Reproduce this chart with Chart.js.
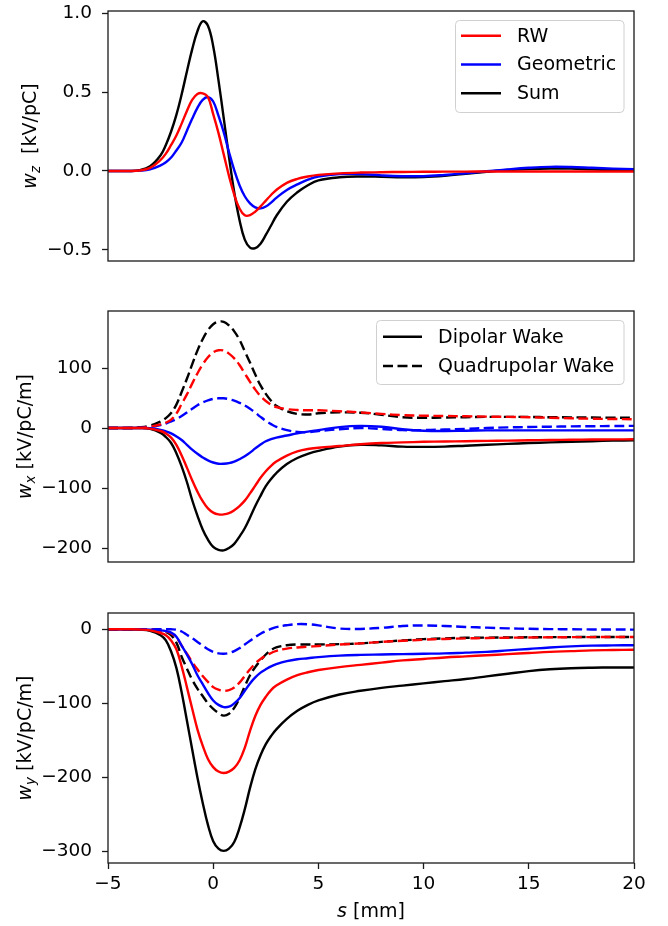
<!DOCTYPE html>
<html>
<head>
<meta charset="utf-8">
<script src="https://cdn.jsdelivr.net/npm/chart.js@4.4.1/dist/chart.umd.min.js"></script>
<style>
  body { margin: 0; background: #fff; }
  #wrap { position: relative; width: 668px; height: 926px; }
  canvas { position: absolute; left: 0; }
</style>
</head>
<body>
<div id="wrap">
  <canvas id="chartZ" width="668" height="270" style="top:0px"></canvas>
  <canvas id="chartX" width="668" height="270" style="top:300px"></canvas>
  <canvas id="chartY" width="668" height="326" style="top:600px"></canvas>
</div>
<script>
// s positions [mm]
var sPos = [-5, -4, -3.5, -3, -2.5, -2.25, -2, -1.75, -1.5, -1.25, -1, -0.75, -0.5, -0.25, 0, 0.25,
  0.5, 0.75, 1, 1.25, 1.5, 1.75, 2, 2.25, 2.5, 2.75, 3, 3.5, 4, 4.5, 5, 6, 7, 8, 9, 10,
  11, 12, 13, 14, 15, 16, 17, 18, 19, 20];

// longitudinal wake w_z [kV/pC]
var wzRW = [0, 0, 0.003, 0.02, 0.07, 0.11, 0.165, 0.225, 0.3, 0.38, 0.45, 0.488, 0.492, 0.468, 0.36, 0.241,
  0.105, -0.031, -0.15, -0.238, -0.281, -0.28, -0.257, -0.224, -0.188, -0.152, -0.12, -0.075, -0.05, -0.035, -0.025, -0.015,
  -0.01, -0.008, -0.006, -0.005, -0.004, -0.004, -0.003, -0.003, -0.003, -0.003, -0.003, -0.003, -0.003, -0.003];
var wzGeo = [0, 0, 0.002, 0.01, 0.035, 0.055, 0.085, 0.13, 0.18, 0.255, 0.33, 0.4, 0.45, 0.468, 0.44, 0.35,
  0.245, 0.12, 0.005, -0.09, -0.16, -0.205, -0.23, -0.237, -0.225, -0.2, -0.17, -0.12, -0.085, -0.055, -0.035, -0.02,
  -0.02, -0.028, -0.033, -0.033, -0.025, -0.014, -0.002, 0.01, 0.02, 0.026, 0.025, 0.02, 0.015, 0.012];
var wzSum = [0, 0, 0.005, 0.03, 0.1, 0.165, 0.25, 0.355, 0.485, 0.63, 0.77, 0.885, 0.948, 0.92, 0.79, 0.575,
  0.335, 0.09, -0.135, -0.31, -0.435, -0.485, -0.488, -0.46, -0.405, -0.345, -0.285, -0.195, -0.135, -0.09, -0.06, -0.04,
  -0.035, -0.037, -0.04, -0.038, -0.03, -0.018, -0.005, 0.006, 0.013, 0.016, 0.015, 0.01, 0.006, 0.004];

// horizontal wake w_x [kV/pC/m], dipolar and quadrupolar (q)
var wxRW = [0, 0, 0, -1, -5, -9, -16, -28, -46, -66, -87, -106, -122, -134, -141, -144,
  -144, -142, -137, -130, -121, -109, -96, -83, -72, -63, -56, -46, -39, -35, -33, -30,
  -27, -25, -24, -23, -22.5, -22, -21.5, -21, -20.5, -20, -19.5, -19.2, -19, -18.8];
var wxGeo = [0, 0, 0, -0.5, -3, -5.5, -9, -14, -20, -28, -36, -43, -49, -54, -57.5, -59.5,
  -59.5, -58.5, -56, -52, -47, -41, -34, -27.5, -22, -18.5, -16, -12.5, -9, -6, -3.5, 1.5,
  3.5, 2, -2, -4.5, -5, -4.5, -4, -4, -4, -4, -4, -4, -4, -4];
var wxSum = [0, 0, 0, -1.5, -8, -15, -25, -42, -64, -90, -120, -146, -169, -186, -198, -203,
  -204, -200, -193, -181, -167, -149, -130, -113, -97, -85, -75, -60, -50, -43, -38, -31,
  -28, -29, -31, -31.5, -31, -29.5, -28, -26.5, -25, -24, -23, -22, -21, -20.5];
var wxRWq = [0, 0, 0.5, 2, 6, 9, 14, 24, 40, 56, 74, 91, 106, 118, 126, 129.5,
  129, 124, 116, 105, 91, 77, 64, 53, 45, 39, 35, 31.5, 30, 29.5, 29.5, 28,
  26, 23.5, 21.5, 20.5, 20, 19.5, 19, 18.5, 18, 17, 16.2, 15.5, 15, 14.5];
var wxGeoq = [0, 0, 0.5, 2, 5, 7.5, 11, 15, 20, 26, 32, 38, 42.5, 46, 48.5, 49.5,
  49.5, 48, 45.5, 42, 37.5, 32, 25.5, 18.5, 12, 6.5, 2, -3.5, -6.5, -7, -5, -2,
  0, -1.5, -3.5, -3.5, -2.5, -1.5, 0, 1, 1.7, 2.2, 2.7, 3, 3.3, 3.6];
var wxSumq = [0, 0, 1, 4, 11, 16.5, 25, 39, 60, 82, 106, 129, 148, 163, 173, 177,
  177, 171, 161, 147, 128, 109, 89, 71, 57, 45.5, 37, 28, 23.5, 22.5, 24.5, 26,
  25.5, 22, 18, 17, 17.5, 18, 18.5, 18.5, 18.5, 18, 17.8, 17.5, 17.2, 17];

// vertical wake w_y [kV/pC/m]
var wyRW = [0, 0, -0.3, -1.5, -5, -8, -15, -27, -50, -78, -107, -135, -157, -175, -186, -192,
  -194, -192, -187, -177, -160, -137, -117, -102, -91, -82, -76, -68, -62, -58, -55, -51,
  -48, -45, -42, -40, -38, -36.5, -35, -33.5, -32, -30.5, -29.5, -28.5, -28, -27.5];
var wyGeo = [0, 0, 0, -0.5, -1.5, -2.5, -4.5, -10, -22, -34, -47, -62, -74, -86, -96, -102,
  -105, -104.5, -100, -93, -83, -73, -65, -58.5, -54, -50, -47, -43, -40.5, -39, -37.5, -35.5,
  -34.5, -34, -33.5, -33, -32.5, -31.5, -30.5, -28.5, -26.5, -24.5, -23, -22, -21.7, -21.5];
var wySum = [0, 0, -0.5, -2, -8, -15, -30, -52, -85, -123, -162, -200, -234, -264, -286, -296,
  -299, -296, -287, -268, -243, -214, -189, -170, -155, -144, -135, -121, -110, -102, -96, -88,
  -83, -79, -76, -73, -70, -67, -63.5, -60, -56.5, -54, -52.5, -51.8, -51.5, -51.5];
var wyRWq = [0, 0, 0, -0.5, -2, -3, -5.5, -11, -22, -33, -44, -54, -63, -71, -78, -81.5,
  -83, -82, -78.5, -72, -63, -54, -46, -40, -35.5, -32, -29, -26, -24.5, -23.5, -22.5, -20.5,
  -19, -17, -15.5, -14, -13, -12.3, -11.8, -11.4, -11, -10.8, -10.6, -10.5, -10.4, -10.4];
var wyGeoq = [0, 0, 0, 0, 0, 0, 0, -0.5, -3, -7.5, -12, -17, -22, -27, -30.5, -32.5,
  -33, -32, -29.5, -25.5, -20.5, -15.5, -10.5, -6, -2.5, 0.5, 3, 5.5, 7, 6.8, 5.3, 1,
  0.5, 2, 4.5, 5.2, 4.5, 3.2, 2.2, 1.3, 0.7, 0.3, 0, -0.2, -0.3, -0.4];
var wySumq = [0, 0, 0, -0.5, -2, -3.5, -8, -18, -37, -53, -68, -80, -90, -100, -107.5, -113,
  -116.5, -114, -106, -93, -77, -62, -51, -42, -34, -28, -24.5, -21.5, -20.5, -20.5, -20.5, -20,
  -19, -17, -15, -13.3, -12.2, -11.5, -11.2, -11, -10.8, -10.6, -10.5, -10.4, -10.4, -10.4];

var sTicks = [-5, 0, 5, 10, 15, 20];
var zTicks = [-0.5, 0, 0.5, 1.0];
var xTicks = [-200, -100, 0, 100];
var yTicks = [-300, -200, -100, 0];
var zLegend = ['RW', 'Geometric', 'Sum'];
var xLegend = ['Dipolar Wake', 'Quadrupolar Wake'];

var FONT = '"DejaVu Sans", sans-serif';
var RED = '#ff0000', BLUE = '#0000ff', BLACK = '#000000';
var DASH = [10, 4.5];
var LW = 2.4;

function pts(ys) {
  return sPos.map(function (s, i) { return { x: s, y: ys[i] }; });
}

function line(ys, color, dashed) {
  return {
    data: pts(ys),
    borderColor: color,
    borderWidth: LW,
    borderDash: dashed ? DASH : [],
    pointRadius: 0,
    fill: false,
    tension: 0.4
  };
}

function minus(v, dec) {
  return v.toFixed(dec).replace('-', '\u2212');
}

function richWidth(ctx, parts) {
  var w = 0;
  parts.forEach(function (p) { ctx.font = p.font; w += ctx.measureText(p.t).width; });
  return w;
}

function drawRich(ctx, parts, x, y) {
  parts.forEach(function (p) {
    ctx.font = p.font;
    ctx.fillText(p.t, x, y + (p.dy || 0));
    x += ctx.measureText(p.t).width;
  });
}

function ylab(sub, unit) {
  return [
    { t: 'w', font: 'italic 19px ' + FONT },
    { t: sub, font: 'italic 13.5px ' + FONT, dy: 4 },
    { t: unit, font: '19px ' + FONT }
  ];
}

// frame, axis labels and legend box
function panelPlugin(opts) {
  return {
    id: 'panel',
    afterDraw: function (chart) {
      var ctx = chart.ctx, a = chart.chartArea;
      ctx.save();
      ctx.strokeStyle = '#1a1a1a';
      ctx.lineWidth = 1.3;
      ctx.strokeRect(a.left, a.top, a.right - a.left, a.bottom - a.top);

      ctx.fillStyle = '#000';
      ctx.textAlign = 'left';
      ctx.textBaseline = 'alphabetic';
      ctx.save();
      ctx.translate(opts.ylabX, (a.top + a.bottom) / 2);
      ctx.rotate(-Math.PI / 2);
      drawRich(ctx, opts.ylab, -richWidth(ctx, opts.ylab) / 2, 0);
      ctx.restore();

      if (opts.xlab) {
        drawRich(ctx, opts.xlab, (a.left + a.right) / 2 - richWidth(ctx, opts.xlab) / 2, opts.xlabY);
      }

      if (opts.legend) {
        var L = opts.legend;
        ctx.beginPath();
        ctx.roundRect(L.x, L.y, L.w, L.h, 4);
        ctx.fillStyle = 'rgba(255,255,255,0.8)';
        ctx.fill();
        ctx.strokeStyle = '#d0d0d0';
        ctx.lineWidth = 1;
        ctx.stroke();
        ctx.font = '19px ' + FONT;
        ctx.textBaseline = 'middle';
        L.items.forEach(function (it, i) {
          var y = L.rowY + i * L.rowH;
          ctx.beginPath();
          ctx.setLineDash(it.dashed ? DASH : []);
          ctx.strokeStyle = it.color;
          ctx.lineWidth = LW;
          ctx.moveTo(L.lineX0, y);
          ctx.lineTo(L.lineX1, y);
          ctx.stroke();
          ctx.setLineDash([]);
          ctx.fillStyle = '#000';
          ctx.fillText(it.label, L.textX, y + 1);
        });
      }
      ctx.restore();
    }
  };
}

function makeChart(id, datasets, yMin, yMax, yTickVals, dec, pad, showX, panel) {
  var ctx = document.getElementById(id).getContext('2d');
  return new Chart(ctx, {
    type: 'line',
    data: { datasets: datasets },
    options: {
      responsive: false,
      animation: false,
      layout: { padding: pad },
      plugins: { legend: { display: false }, tooltip: { enabled: false } },
      scales: {
        x: {
          type: 'linear',
          min: -5,
          max: 20,
          display: showX,
          border: { display: false },
          grid: { drawOnChartArea: false, drawTicks: true, tickLength: 6, tickColor: '#1a1a1a', tickWidth: 1.3 },
          afterBuildTicks: function (axis) { axis.ticks = sTicks.map(function (v) { return { value: v }; }); },
          afterFit: function (axis) {
            axis.height = showX ? 40 : 0;
            axis.paddingLeft = 0;
            axis.paddingRight = 0;
          },
          ticks: {
            padding: 4,
            maxRotation: 0,
            color: '#000',
            font: { family: FONT, size: 18.5 },
            callback: function (v) { return minus(v, 0); }
          }
        },
        y: {
          min: yMin,
          max: yMax,
          border: { display: false },
          grid: { drawOnChartArea: false, drawTicks: true, tickLength: 6, tickColor: '#1a1a1a', tickWidth: 1.3 },
          afterBuildTicks: function (axis) { axis.ticks = yTickVals.map(function (v) { return { value: v }; }); },
          afterFit: function (axis) {
            axis.width = 108;
            axis.paddingTop = 0;
            axis.paddingBottom = 0;
          },
          ticks: {
            padding: 10,
            color: '#000',
            font: { family: FONT, size: 18.5 },
            callback: function (v) { return minus(v, dec); }
          }
        }
      }
    },
    plugins: [panelPlugin(panel)]
  });
}

makeChart('chartZ', [
  line(wzRW, RED), line(wzGeo, BLUE), line(wzSum, BLACK)
], -0.57, 1.013, zTicks, 1, { top: 11, right: 34, bottom: 9, left: 0 }, false, {
  ylab: ylab('z', '  [kV/pC]'), ylabX: 36,
  legend: {
    x: 455.5, y: 20.5, w: 168.5, h: 92, rowY: 35.7, rowH: 28.8, lineX0: 461, lineX1: 501, textX: 517,
    items: [
      { label: zLegend[0], color: RED },
      { label: zLegend[1], color: BLUE },
      { label: zLegend[2], color: BLACK }
    ]
  }
});

makeChart('chartX', [
  line(wxRW, RED), line(wxGeo, BLUE), line(wxSum, BLACK),
  line(wxRWq, RED, true), line(wxGeoq, BLUE, true), line(wxSumq, BLACK, true)
], -223.3, 195, xTicks, 0, { top: 11, right: 34, bottom: 8, left: 0 }, false, {
  ylab: ylab('x', ' [kV/pC/m]'), ylabX: 31,
  legend: {
    x: 376.5, y: 20.5, w: 247.5, h: 64, rowY: 36.7, rowH: 29.3, lineX0: 383, lineX1: 422, textX: 438,
    items: [
      { label: xLegend[0], color: BLACK },
      { label: xLegend[1], color: BLACK, dashed: true }
    ]
  }
});

makeChart('chartY', [
  line(wyRW, RED), line(wyGeo, BLUE), line(wySum, BLACK),
  line(wyRWq, RED, true), line(wyGeoq, BLUE, true), line(wySumq, BLACK, true)
], -315.4, 22, yTicks, 0, { top: 13, right: 34, bottom: 23, left: 0 }, true, {
  ylab: ylab('y', ' [kV/pC/m]'), ylabX: 31,
  xlab: [{ t: 's', font: 'italic 19px ' + FONT }, { t: ' [mm]', font: '19px ' + FONT }],
  xlabY: 317
});
</script>
</body>
</html>
